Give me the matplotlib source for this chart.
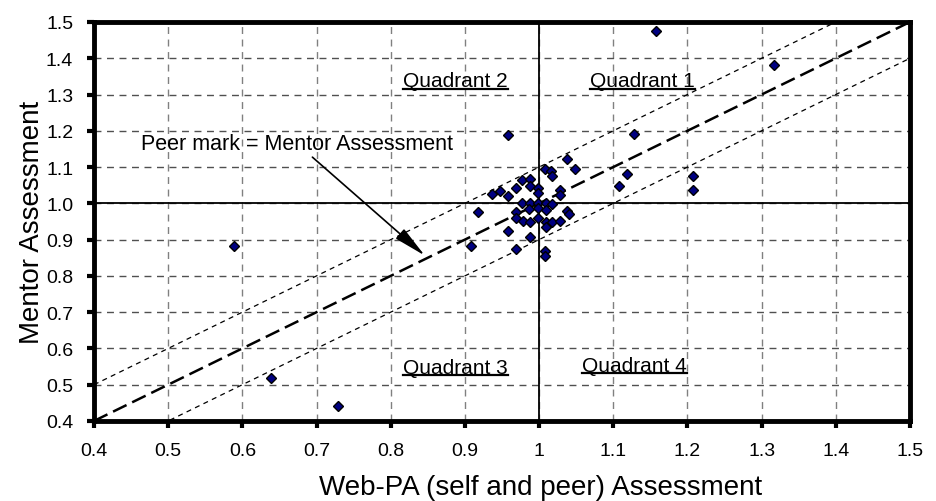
import numpy as np
import matplotlib
matplotlib.use("Agg")
from matplotlib import pyplot as plt
from matplotlib.lines import Line2D

plt.rcParams['font.family'] = ['Liberation Sans', 'DejaVu Sans']

# Web-PA (self and peer) assessment vs mentor assessment
web_pa = [0.589, 0.639, 0.729, 1.158, 1.317, 0.958, 1.128, 1.118, 1.108, 1.208,
          1.208, 1.038, 1.048, 1.008, 1.016, 1.018, 0.977, 0.988, 0.988, 0.969,
          0.998, 1.028, 0.948, 0.937, 0.958, 0.998, 1.028, 0.977, 0.988, 0.998,
          1.009, 1.018, 0.987, 0.998, 1.009, 0.918, 0.969, 1.037, 1.040, 0.969,
          0.978, 0.988, 0.999, 1.009, 1.018, 1.028, 1.009, 0.958, 0.988, 0.908,
          0.969, 1.008, 1.008]
mentor = [0.883, 0.518, 0.442, 1.474, 1.382, 1.189, 1.190, 1.081, 1.047, 1.076,
          1.037, 1.123, 1.094, 1.095, 1.088, 1.076, 1.064, 1.066, 1.049, 1.041,
          1.041, 1.038, 1.034, 1.025, 1.020, 1.029, 1.022, 1.000, 1.000, 1.000,
          1.000, 0.998, 0.984, 0.986, 0.983, 0.975, 0.975, 0.980, 0.970, 0.959,
          0.952, 0.949, 0.960, 0.949, 0.949, 0.950, 0.934, 0.925, 0.906, 0.882,
          0.874, 0.870, 0.856]

x_ticks = [0.4, 0.5, 0.6, 0.7, 0.8, 0.9, 1.0, 1.1, 1.2, 1.3, 1.4, 1.5]
x_labels = ['0.4', '0.5', '0.6', '0.7', '0.8', '0.9', '1', '1.1', '1.2', '1.3', '1.4', '1.5']
y_ticks = [0.4, 0.5, 0.6, 0.7, 0.8, 0.9, 1.0, 1.1, 1.2, 1.3, 1.4, 1.5]
y_labels = ['%.1f' % v for v in y_ticks]

band = 0.1  # offset of the two thin lines around peer = mentor

quadrants = [("Quadrant 1", 1.139, 1.338), ("Quadrant 2", 0.887, 1.338),
             ("Quadrant 3", 0.887, 0.548), ("Quadrant 4", 1.129, 0.553)]

fig = plt.figure(figsize=(9.36, 5.02), dpi=100)
ax = fig.add_axes([0.1004, 0.1594, 0.8718, 0.7948])
ax.set_xlim(0.4, 1.5)
ax.set_ylim(0.4, 1.5)

# grid
for v in x_ticks[1:-1]:
    ax.axvline(v, color='#808080', lw=1.0, dashes=(5, 4), zorder=1)
for v in y_ticks[1:-1]:
    ax.axhline(v, color='#505050', lw=1.0, dashes=(5, 4), zorder=1)

# quadrant dividers
ax.axhline(1.0, color='black', lw=1.3, zorder=2)
ax.axvline(1.0, color='black', lw=1.3, zorder=2)

# reference lines
xs = np.array([0.4, 1.5])
ax.plot(xs, xs, color='black', lw=1.8, dashes=(6, 2.5), zorder=3)
ax.plot(xs, xs + band, color='black', lw=0.9, dashes=(4, 3.5), zorder=3)
ax.plot(xs, xs - band, color='black', lw=0.9, dashes=(4, 3.5), zorder=3)

ax.plot(web_pa, mentor, linestyle='none', marker='D', markersize=5.5,
        markerfacecolor='#000080', markeredgecolor='black', markeredgewidth=1.0,
        zorder=5, clip_on=False)

ax.annotate("Peer mark = Mentor Assessment", xy=(0.846, 0.856), xytext=(0.763, 1.111),
            textcoords='data', fontsize=15.5,
            arrowprops=dict(arrowstyle='-|>,head_length=1.3,head_width=0.25',
                            color='black', lw=1.2, shrinkA=0, shrinkB=0),
            ha='center', va='bottom', zorder=6)
# move text so it sits centred above the arrow start
ann = ax.texts[-1]
ann.set_position((0.674, 1.164))
ann.set_va('center')

qtexts = []
for name, qx, qy in quadrants:
    qtexts.append(ax.text(qx, qy, name, fontsize=15, ha='center', va='center', zorder=6))

ax.set_xticks(x_ticks)
ax.set_xticklabels(x_labels)
ax.set_yticks(y_ticks)
ax.set_yticklabels(y_labels)
ax.tick_params(direction='out', length=5, width=3, labelsize=14, pad=10, colors='black')
for s in ax.spines.values():
    s.set_linewidth(3.5)
    s.set_capstyle('projecting')

ax.set_xlabel("Web-PA (self and peer) Assessment", fontsize=20)
ax.xaxis.set_label_coords(0.547, -0.133)
ax.set_ylabel("Mentor Assessment", fontsize=20)
ax.yaxis.set_label_coords(-0.06, 0.5)

# underline the quadrant labels
fig.canvas.draw()
inv = ax.transAxes.inverted()
for t in qtexts:
    bb = t.get_window_extent()
    (x0, y0), (x1, _) = inv.transform([(bb.x0, bb.y0 + 1.5), (bb.x1, bb.y0 + 1.5)])
    ax.add_line(Line2D([x0, x1], [y0, y0], transform=ax.transAxes, color='black',
                       lw=1.6, zorder=6))

fig.savefig("out.png", dpi=100)
